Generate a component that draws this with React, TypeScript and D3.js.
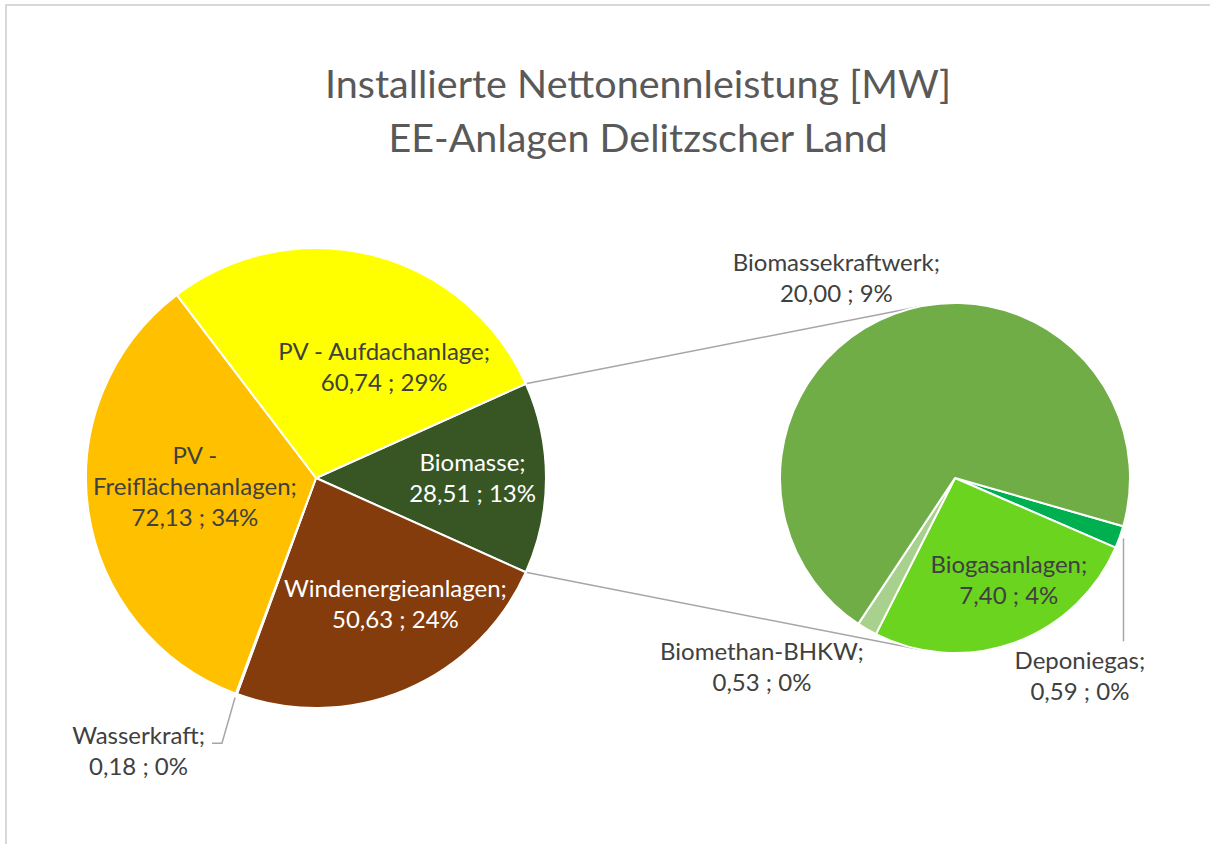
import React, { useEffect, useRef } from 'react';
import * as d3 from 'd3';

const titleLines = ['Installierte Nettonennleistung [MW]', 'EE-Anlagen Delitzscher Land'];

// main pie, clockwise starting with the slice that is split out ("Biomasse")
const mainNames = ['Biomasse', 'Windenergieanlagen', 'Wasserkraft', 'PV -\nFreiflächenanlagen', 'PV - Aufdachanlage'];
const mainValues = [28.51, 50.63, 0.18, 72.13, 60.74];
const mainPercents = [13, 24, 0, 34, 29];
const mainColors = ['#375623', '#843C0C', '#4472C4', '#FFC000', '#FFFF00'];

// second pie: what "Biomasse" is made of, clockwise
const subNames = ['Deponiegas', 'Biogasanlagen', 'Biomethan-BHKW', 'Biomassekraftwerk'];
const subValues = [0.59, 7.4, 0.53, 20.0];
const subPercents = [0, 4, 0, 9];
const subColors = ['#00B050', '#6AD41F', '#A9D18E', '#70AD47'];

// label placement (radius factor + nudge from the centroid)
const mainLabelK = [0.62, 0.62, 1.25, 0.62, 0.62];
const mainNudge = [[14, 8], [24, 3], [-78, 12], [20, -4], [33, 36]];
const mainLabelWhite = [true, true, false, false, false];
const subLabelK = [1.25, 0.62, 1.25, 1.25];
const subNudge = [[-81, 133], [17, 8], [-83, 8], [-43, 14]];

const FONT = 'Lato, "Open Sans", sans-serif';
const TEXT = '#404040';
const LINE = '#A6A6A6';

const de = d3.formatLocale({ decimal: ',', thousands: '.', grouping: [3], currency: ['', ' €'] });
const fmt = de.format('.2f');

const App = () => {
    const ref = useRef<SVGSVGElement>(null);

    useEffect(() => {
        const svg = d3.select(ref.current);
        svg.selectAll('*').remove();

        const fontSize = 24;
        const lineH = 31;

        // chart frame
        svg.append('rect')
            .attr('x', 6).attr('y', 5)
            .attr('width', 1300).attr('height', 900)
            .attr('fill', '#fff')
            .attr('stroke', '#D9D9D9')
            .attr('stroke-width', 2);

        // title
        const title = svg.append('text')
            .attr('text-anchor', 'middle')
            .attr('font-family', FONT)
            .attr('font-size', 39.5)
            .attr('fill', '#595959');
        titleLines.forEach((t, i) => {
            title.append('tspan').attr('x', 638).attr('y', 98 + i * 54).text(t);
        });

        const mainC = { x: 316, y: 478 };
        const mainR = 230;
        const subC = { x: 955, y: 478 };
        const subR = 175;

        const mainTotal = d3.sum(mainValues);
        const mainStart = Math.PI / 2 - (mainValues[0] / mainTotal) * Math.PI;
        const mainArcs = d3.pie<number>().sort(null).value(d => d)
            .startAngle(mainStart).endAngle(mainStart + 2 * Math.PI)(mainValues);

        const subStart = (106 * Math.PI) / 180;
        const subArcs = d3.pie<number>().sort(null).value(d => d)
            .startAngle(subStart).endAngle(subStart + 2 * Math.PI)(subValues);

        const polar = (c, r, a) => [c.x + r * Math.sin(a), c.y - r * Math.cos(a)];

        // connector lines: tangents from the Biomasse edge to the second pie
        const top = polar(mainC, mainR, mainArcs[0].startAngle);
        const bottom = polar(mainC, mainR, mainArcs[0].endAngle);
        const tangent = (p, sign) => {
            const dx = p[0] - subC.x, dy = p[1] - subC.y;
            const d = Math.hypot(dx, dy);
            const base = Math.atan2(dx, -dy);
            return polar(subC, subR, base + sign * Math.acos(subR / d));
        };
        [[top, tangent(top, 1)], [bottom, tangent(bottom, -1)]].forEach(seg => {
            svg.append('line')
                .attr('x1', seg[0][0]).attr('y1', seg[0][1])
                .attr('x2', seg[1][0]).attr('y2', seg[1][1])
                .attr('stroke', LINE).attr('stroke-width', 1.5);
        });

        const drawPie = (arcs, c, r, colors) => {
            const arc = d3.arc().innerRadius(0).outerRadius(r);
            svg.append('g')
                .attr('transform', `translate(${c.x},${c.y})`)
                .selectAll('path')
                .data(arcs)
                .enter()
                .append('path')
                .attr('d', arc)
                .attr('fill', (d, i) => colors[i])
                .attr('stroke', '#fff')
                .attr('stroke-width', 2)
                .attr('stroke-linejoin', 'round');
        };
        drawPie(mainArcs, mainC, mainR, mainColors);
        drawPie(subArcs, subC, subR, subColors);

        // data labels
        const drawLabel = (name, value, pct, pos, white) => {
            const lines = (name + ';').split('\n');
            lines.push(`${fmt(value)} ; ${pct}%`);
            const t = svg.append('text')
                .attr('text-anchor', 'middle')
                .attr('font-family', FONT)
                .attr('font-size', fontSize)
                .attr('fill', white ? '#fff' : TEXT);
            lines.forEach((l, i) => {
                t.append('tspan')
                    .attr('x', pos[0])
                    .attr('y', pos[1] + (i - (lines.length - 1) / 2) * lineH)
                    .text(l);
            });
            return { node: t.node(), firstBase: pos[1] - ((lines.length - 1) / 2) * lineH };
        };

        const labelPos = (a, c, r, k, n) => {
            const mid = (a.startAngle + a.endAngle) / 2;
            const p = polar(c, r * k, mid);
            return [p[0] + n[0], p[1] + n[1]];
        };

        mainArcs.forEach((a, i) => {
            const pos = labelPos(a, mainC, mainR, mainLabelK[i], mainNudge[i]);
            const lab = drawLabel(mainNames[i], mainValues[i], mainPercents[i], pos, mainLabelWhite[i]);
            if (mainNames[i] === 'Wasserkraft') {
                // elbow leader to the right end of the first label line
                const p0 = polar(mainC, mainR + 4, (a.startAngle + a.endAngle) / 2);
                const w = (lab.node.firstChild as SVGTextContentElement).getComputedTextLength();
                const y = lab.firstBase - 1;
                const x2 = pos[0] + w / 2 + 7;
                svg.append('polyline')
                    .attr('points', `${p0[0]},${p0[1]} ${x2 + 10},${y} ${x2},${y}`)
                    .attr('fill', 'none').attr('stroke', LINE).attr('stroke-width', 1.5);
            }
        });

        subArcs.forEach((a, i) => {
            const pos = labelPos(a, subC, subR, subLabelK[i], subNudge[i]);
            const lab = drawLabel(subNames[i], subValues[i], subPercents[i], pos, false);
            if (subNames[i] === 'Deponiegas') {
                const p0 = polar(subC, subR + 4, (a.startAngle + a.endAngle) / 2);
                svg.append('line')
                    .attr('x1', p0[0]).attr('y1', p0[1])
                    .attr('x2', p0[0]).attr('y2', lab.firstBase - 28)
                    .attr('stroke', LINE).attr('stroke-width', 1.5);
            }
        });
    }, []);

    return (
        <svg
            ref={ref}
            width={1210}
            height={844}
            style={{ position: 'absolute', left: 0, top: 0 }}
        />
    );
};

export default App;
